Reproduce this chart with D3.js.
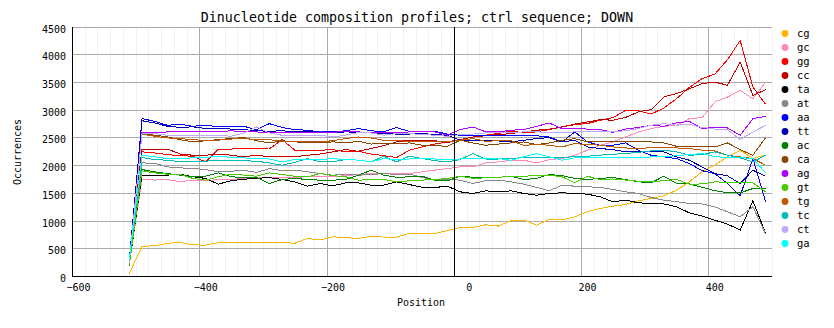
<!DOCTYPE html>
<html>
<head>
<meta charset="utf-8">
<script src="https://cdn.jsdelivr.net/npm/d3@7"></script>
<style>
  body { margin: 0; background: #fff; }
  text { font-family: "DejaVu Sans Mono", "Liberation Mono", monospace; fill: #000; }
</style>
</head>
<body>
<svg id="chart" width="834" height="328"></svg>
<script>
// Positions along the sequence (bin centres)
const positions = [-510,-490,-470,-450,-430,-410,-390,-370,-350,-330,-310,-290,-270,-250,-230,-210,-190,-170,-150,-130,-110,-90,-70,-50,-30,-10,10,30,50,70,90,110,130,150,170,190,210,230,250,270,290,310,330,350,370,390,410,430,450,470,490];

const names  = ["cg","gc","gg","cc","ta","at","aa","tt","ac","ca","ag","gt","tg","tc","ct","ga"];
const colors = ["#ffb400","#ff88bb","#ff0000","#c00000","#000000","#888888","#0000ff","#0000b0","#008000","#8b4500","#b000ff","#44cc00","#c05800","#00bbbb","#c0a8ff","#00ffff"];

const cg = [45,534,546,588,606,560,558,600,606,606,606,606,606,590,678,648,708,690,678,714,702,702,768,768,768,816,876,876,924,900,996,1008,918,1020,1010,1068,1160,1218,1260,1290,1356,1400,1446,1548,1698,1878,2000,2150,2268,2120,2180];
const gc = [220,1746,1730,1740,1700,1728,1720,1740,1740,1760,1770,1776,1776,1780,1790,1800,1790,1810,1830,1848,1848,1848,1850,1878,1910,1938,1968,1968,2040,2058,2088,2088,2040,2100,2118,2178,2268,2358,2418,2508,2598,2658,2700,2718,2838,2856,3138,3228,3348,3198,3498];
const gg = [250,2240,2220,2190,2170,2160,2058,2290,2290,2300,2298,2290,2460,2270,2268,2268,2280,2238,2250,2200,2170,2136,2268,2328,2380,2418,2460,2508,2540,2570,2616,2580,2600,2640,2690,2730,2750,2808,2856,2988,2980,2920,3030,3198,3400,3560,3640,3900,4248,3408,3096];
const cc = [300,2290,2290,2290,2200,2178,2178,2200,2178,2150,2180,2148,2148,2150,2178,2200,2238,2280,2250,2300,2350,2420,2448,2448,2440,2406,2460,2508,2530,2550,2568,2600,2628,2650,2688,2740,2778,2820,2810,2860,2960,3000,3230,3290,3378,3468,3498,3440,3858,3258,3360];
const ta = [200,1818,1818,1820,1836,1790,1760,1656,1720,1746,1760,1776,1740,1698,1620,1668,1626,1680,1680,1638,1640,1698,1650,1600,1596,1620,1518,1488,1536,1520,1536,1488,1458,1490,1500,1490,1476,1428,1338,1368,1320,1308,1300,1248,1140,1080,1008,936,828,1356,768];
const at = [230,2040,2030,1968,1950,1940,1920,1878,1890,1908,1866,1938,1900,1910,1880,1848,1818,1840,1818,1830,1848,1830,1840,1776,1740,1745,1728,1668,1720,1730,1698,1656,1600,1536,1638,1620,1608,1600,1560,1518,1488,1416,1368,1340,1308,1300,1248,1158,1068,1248,756];
const aa = [250,2838,2790,2718,2736,2700,2720,2690,2700,2700,2640,2748,2680,2640,2630,2598,2600,2620,2658,2620,2600,2676,2610,2600,2610,2560,2540,2530,2540,2538,2538,2538,2530,2508,2418,2598,2418,2358,2358,2400,2268,2178,2148,2118,2028,1900,1848,1668,1446,2118,1338];
const tt = [280,2800,2760,2700,2680,2690,2660,2660,2650,2640,2620,2610,2620,2600,2610,2590,2580,2600,2590,2580,2570,2560,2560,2570,2550,2538,2448,2450,2440,2436,2420,2448,2480,2496,2418,2450,2328,2298,2280,2238,2240,2238,2238,2150,2088,1968,1848,1806,1668,1908,1800];
const ac = [180,1920,1878,1848,1820,1788,1800,1860,1790,1776,1776,1668,1740,1760,1740,1728,1728,1740,1818,1908,1818,1780,1788,1800,1728,1716,1800,1780,1770,1780,1800,1740,1760,1830,1810,1760,1740,1760,1776,1740,1700,1680,1800,1668,1660,1600,1540,1500,1500,1578,1578];
const ca = [260,2568,2540,2508,2460,2418,2440,2460,2480,2496,2440,2400,2440,2420,2400,2400,2420,2400,2430,2380,2388,2390,2400,2358,2350,2340,2448,2400,2358,2380,2400,2418,2370,2400,2448,2478,2420,2418,2418,2418,2418,2418,2400,2340,2340,2330,2328,2400,2280,2178,2496];
const ag = [270,2586,2590,2598,2598,2610,2610,2600,2620,2598,2598,2590,2580,2590,2590,2598,2590,2610,2600,2580,2590,2590,2598,2600,2598,2540,2640,2688,2600,2600,2630,2640,2700,2760,2658,2658,2650,2640,2590,2650,2680,2718,2700,2760,2790,2658,2680,2670,2538,2838,2880];
const gt = [190,1896,1860,1836,1830,1760,1728,1790,1836,1820,1800,1860,1830,1800,1788,1848,1810,1790,1728,1740,1740,1700,1716,1730,1740,1760,1800,1760,1770,1780,1800,1800,1810,1818,1790,1680,1800,1740,1750,1730,1710,1698,1720,1740,1656,1660,1698,1690,1690,1680,1518];
const tg = [240,2560,2520,2490,2478,2460,2440,2450,2470,2480,2460,2460,2430,2420,2420,2420,2440,2480,2508,2490,2448,2440,2430,2420,2430,2420,2448,2478,2430,2440,2440,2358,2370,2360,2328,2388,2370,2360,2328,2310,2298,2316,2316,2310,2298,2270,2256,2178,2148,2118,1998];
const tc = [280,2136,2100,2088,2060,2058,2070,2090,2080,2080,2070,2040,1998,2050,2118,2060,2060,2100,2090,2060,2160,2058,2160,2120,2080,2058,2100,2208,2110,2110,2120,2136,2140,2136,2140,2150,2160,2180,2196,2210,2230,2256,2268,2240,2178,2190,2238,2180,2130,2058,2178];
const ct = [240,2568,2568,2538,2540,2540,2540,2538,2520,2580,2688,2580,2538,2540,2540,2540,2508,2540,2590,2580,2540,2570,2570,2550,2540,2520,2550,2560,2580,2580,2580,2600,2600,2590,2580,2600,2610,2600,2600,2620,2660,2718,2748,2720,2736,2680,2650,2640,2460,2598,2718];
const ga = [300,2178,2150,2118,2120,2130,2140,2160,2140,2130,2118,2110,2058,2100,2100,2100,2118,2100,2090,2060,2118,2100,2110,2118,2110,2110,2110,2118,2118,2118,2088,2150,2208,2150,2088,2130,2130,2140,2130,2130,2130,2148,2150,2170,2190,2208,2150,2140,2136,2120,1860];

const seriesValues = [cg, gc, gg, cc, ta, at, aa, tt, ac, ca, ag, gt, tg, tc, ct, ga];

const xTicks = [-600, -400, -200, 0, 200, 400];
const yTicks = [0, 500, 1000, 1500, 2000, 2500, 3000, 3500, 4000, 4500];

const series = names.map((n, k) => ({ name: n, color: colors[k], values: seriesValues[k] }));

const svg = d3.select("#chart");
const x = d3.scaleLinear().domain([-600, 500]).range([72, 772]);
const y = d3.scaleLinear().domain([0, 4500]).range([276, 26.5]);

// light vertical grid every 20 positions
const grid = svg.append("g").attr("shape-rendering", "crispEdges");
grid.selectAll(".minor").data(d3.range(-600, 501, 20)).join("line")
  .attr("x1", d => Math.round(x(d)) + 0.5).attr("x2", d => Math.round(x(d)) + 0.5)
  .attr("y1", y(4500)).attr("y2", y(0))
  .attr("stroke", "#f2f2f2");
// major vertical grid
grid.selectAll(".majorx").data(xTicks).join("line")
  .attr("x1", d => Math.round(x(d)) + 0.5).attr("x2", d => Math.round(x(d)) + 0.5)
  .attr("y1", y(4500)).attr("y2", y(0))
  .attr("stroke", "#aaaaaa");
// horizontal grid
grid.selectAll(".majory").data(yTicks).join("line")
  .attr("x1", x(-600)).attr("x2", x(500))
  .attr("y1", d => Math.round(y(d)) + 0.5).attr("y2", d => Math.round(y(d)) + 0.5)
  .attr("stroke", "#aaaaaa");

// profile lines
const line = d3.line().x((d, i) => x(positions[i])).y(d => y(d));
svg.append("g").attr("shape-rendering", "crispEdges")
  .selectAll("path").data(series).join("path")
  .attr("d", s => line(s.values))
  .attr("fill", "none")
  .attr("stroke", s => s.color)
  .attr("stroke-width", 1);

// marker at position 0
svg.append("line").attr("shape-rendering", "crispEdges")
  .attr("x1", Math.round(x(0)) + 0.5).attr("x2", Math.round(x(0)) + 0.5)
  .attr("y1", y(4500)).attr("y2", y(0))
  .attr("stroke", "#000");

// axes
const yAxis = svg.append("g").attr("transform", `translate(${x(-600)},0)`)
  .call(d3.axisLeft(y).tickValues(yTicks).tickFormat(d3.format("d")).tickSize(0).tickPadding(6));
yAxis.select(".domain").remove();
yAxis.selectAll("text").attr("font-size", 10).attr("dy", "0.55em")
  .style("font-family", '"DejaVu Sans Mono", monospace');

const xAxis = svg.append("g").attr("transform", `translate(0,${y(0)})`)
  .call(d3.axisBottom(x).tickValues(xTicks).tickFormat(d3.format("d")).tickSize(0).tickPadding(8));
xAxis.select(".domain").remove();
xAxis.selectAll("text").attr("font-size", 10)
  .attr("dx", d => d === 0 ? 15 : 6)
  .style("font-family", '"DejaVu Sans Mono", monospace');

svg.append("g").attr("shape-rendering", "crispEdges").call(g => {
  g.append("line").attr("x1", 72.5).attr("x2", 72.5).attr("y1", y(4500)).attr("y2", y(0) + 1).attr("stroke", "#000");
  g.append("line").attr("x1", 72).attr("x2", x(500)).attr("y1", Math.round(y(0)) + 0.5).attr("y2", Math.round(y(0)) + 0.5).attr("stroke", "#000");
});

// titles
svg.append("text").attr("x", 417).attr("y", 22).attr("text-anchor", "middle")
  .attr("font-size", 13.3).text("Dinucleotide composition profiles; ctrl sequence; DOWN");
svg.append("text").attr("x", 421).attr("y", 306).attr("text-anchor", "middle")
  .attr("font-size", 10).text("Position");
svg.append("text").attr("transform", "translate(21,152) rotate(-90)").attr("text-anchor", "middle")
  .attr("font-size", 10).text("Occurrences");

// legend
const legend = svg.append("g").selectAll("g").data(series).join("g")
  .attr("transform", (s, i) => `translate(785,${33.5 + i * 14})`);
legend.append("circle").attr("r", 3.4).attr("fill", s => s.color);
legend.append("text").attr("x", 12).attr("dy", "0.35em").attr("font-size", 10.5).text(s => s.name);
</script>
</body>
</html>
